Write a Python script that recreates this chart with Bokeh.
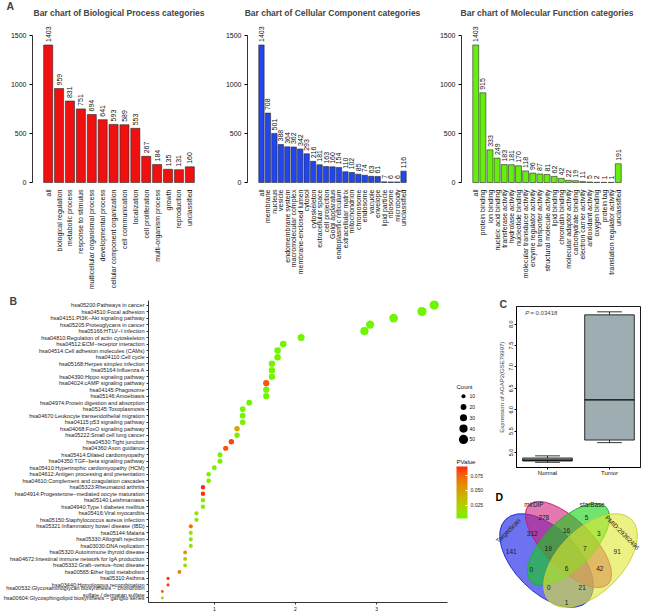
import math
from bokeh.plotting import figure
from bokeh.models import (ColumnDataSource, FactorRange, Range1d, FixedTicker, Label, Title,
                          LinearColorMapper, ColorBar, NumeralTickFormatter)
from bokeh.layouts import row, column
from bokeh.transform import dodge
from bokeh.core.properties import value
from bokeh.embed import file_html
from bokeh.resources import INLINE

FONT = "Liberation Sans"

# ---------------- data: panel A ----------------
bp_categories = ["all", "biological regulation", "metabolic process", "response to stimulus",
                 "multicellular organismal process", "developmental process",
                 "cellular component organization", "cell communication", "localization",
                 "cell proliferation", "multi-organism process", "growth", "reproduction",
                 "unclassified"]
bp_counts = [1403, 959, 831, 751, 694, 641, 593, 589, 553, 267, 184, 135, 131, 160]

cc_categories = ["all", "membrane", "nucleus", "vesicle", "endomembrane system",
                 "macromolecular complex", "membrane-enclosed lumen", "cytosol", "cytoskeleton",
                 "extracellular space", "cell projection", "Golgi apparatus",
                 "endoplasmic reticulum", "extracellular matrix", "mitochondrion", "chromosome",
                 "endosome", "vacuole", "envelope", "lipid particle", "ribosome", "microbody",
                 "unclassified"]
cc_counts = [1403, 708, 501, 388, 364, 362, 342, 293, 216, 181, 163, 160, 154, 110, 102, 85,
             74, 63, 61, 7, 6, 6, 116]

mf_categories = ["all", "protein binding", "ion binding", "nucleic acid binding",
                 "transferase activity", "hydrolase activity", "nucleotide binding",
                 "molecular transducer activity", "enzyme regulator activity",
                 "transporter activity", "structural molecule activity", "lipid binding",
                 "chromatin binding", "molecular adaptor activity", "carbohydrate binding",
                 "electron carrier activity", "antioxidant activity", "oxygen binding",
                 "protein tag", "translation regulator activity", "unclassified"]
mf_counts = [1403, 915, 333, 249, 183, 181, 170, 118, 96, 87, 81, 62, 42, 22, 19, 11, 5, 2,
             1, 1, 191]

# ---------------- data: panel B (top to bottom) ----------------
kegg_terms = [
    "hsa05200:Pathways in cancer",
    "hsa04510:Focal adhesion",
    "hsa04151:PI3K\u2212Akt signaling pathway",
    "hsa05205:Proteoglycans in cancer",
    "hsa05166:HTLV\u2212I infection",
    "hsa04810:Regulation of actin cytoskeleton",
    "hsa04512:ECM\u2212receptor interaction",
    "hsa04514:Cell adhesion molecules (CAMs)",
    "hsa04110:Cell cycle",
    "hsa05168:Herpes simplex infection",
    "hsa05164:Influenza A",
    "hsa04390:Hippo signaling pathway",
    "hsa04024:cAMP signaling pathway",
    "hsa04145:Phagosome",
    "hsa05146:Amoebiasis",
    "hsa04974:Protein digestion and absorption",
    "hsa05145:Toxoplasmosis",
    "hsa04670:Leukocyte transendothelial migration",
    "hsa04115:p53 signaling pathway",
    "hsa04068:FoxO signaling pathway",
    "hsa05222:Small cell lung cancer",
    "hsa04530:Tight junction",
    "hsa04360:Axon guidance",
    "hsa05414:Dilated cardiomyopathy",
    "hsa04350:TGF\u2212beta signaling pathway",
    "hsa05410:Hypertrophic cardiomyopathy (HCM)",
    "hsa04612:Antigen processing and presentation",
    "hsa04610:Complement and coagulation cascades",
    "hsa05323:Rheumatoid arthritis",
    "hsa04914:Progesterone\u2212mediated oocyte maturation",
    "hsa05140:Leishmaniasis",
    "hsa04940:Type I diabetes mellitus",
    "hsa05416:Viral myocarditis",
    "hsa05150:Staphylococcus aureus infection",
    "hsa05321:Inflammatory bowel disease (IBD)",
    "hsa05144:Malaria",
    "hsa05330:Allograft rejection",
    "hsa03030:DNA replication",
    "hsa05320:Autoimmune thyroid disease",
    "hsa04672:Intestinal immune network for IgA production",
    "hsa05332:Graft\u2212versus\u2212host disease",
    "hsa00565:Ether lipid metabolism",
    "hsa05310:Asthma",
    "hsa03440:Homologous recombination",
    "hsa00532:Glycosaminoglycan biosynthesis \u2212 chondroitin\nsulfate / dermatan sulfate",
    "hsa00604:Glycosphingolipid biosynthesis \u2212 ganglio series",
]
kegg_percent = [3.71, 3.56, 3.21, 2.92, 2.85, 2.07, 1.85, 1.78, 1.78, 1.71, 1.71, 1.71, 1.64,
                1.64, 1.64, 1.43, 1.35, 1.35, 1.35, 1.28, 1.28, 1.21, 1.14, 1.07, 1.07, 1.00,
                0.93, 0.93, 0.86, 0.86, 0.86, 0.86, 0.78, 0.78, 0.71, 0.71, 0.71, 0.71, 0.64,
                0.64, 0.64, 0.57, 0.43, 0.43, 0.36, 0.36]
kegg_count = [52, 50, 45, 41, 40, 29, 26, 25, 25, 24, 24, 24, 23, 23, 23, 20, 19, 19, 19, 18,
              18, 17, 16, 15, 15, 14, 13, 13, 12, 12, 12, 12, 11, 11, 10, 10, 10, 10, 9, 9, 9,
              8, 6, 6, 5, 5]
kegg_pvalue = [0.00001, 0.00001, 0.00001, 0.00001, 0.0002, 0.0003, 0.00001, 0.0002, 0.001,
               0.004, 0.003, 0.002, 0.080, 0.003, 0.002, 0.001, 0.004, 0.002, 0.006, 0.045,
               0.008, 0.085, 0.080, 0.004, 0.006, 0.006, 0.004, 0.009, 0.089, 0.088, 0.010,
               0.008, 0.012, 0.010, 0.070, 0.012, 0.012, 0.009, 0.058, 0.030, 0.015, 0.068,
               0.087, 0.085, 0.078, 0.025]
count_legend_values = [10, 20, 30, 40, 50]
pvalue_ticks = [0.025, 0.050, 0.075]

# ---------------- data: panel C ----------------
box_groups = ["Normal", "Tumor"]
box_lower = [4.77, 5.23]
box_q1 = [4.80, 5.29]
box_median = [4.82, 6.23]
box_q3 = [4.87, 8.22]
box_upper = [4.92, 8.29]
box_pvalue = "0.03418"

# ---------------- data: panel D ----------------
venn_sets = ["TargetScan", "mirDIP", "starBase", "PMID:29362496"]
venn_region_counts = [278, 5, 312, 16, 3, 141, 19, 7, 91, 0, 6, 42, 0, 21, 1]

# ================= styling helpers =================
def _to_lab(h):
    rgb = [int(h[i:i + 2], 16) / 255 for i in (1, 3, 5)]
    lin = [c / 12.92 if c <= 0.04045 else ((c + 0.055) / 1.055) ** 2.4 for c in rgb]
    r, g, b = lin
    X = (0.4124 * r + 0.3576 * g + 0.1805 * b) / 0.95047
    Y = 0.2126 * r + 0.7152 * g + 0.0722 * b
    Z = (0.0193 * r + 0.1192 * g + 0.9505 * b) / 1.08883
    f = lambda t: t ** (1 / 3) if t > 0.008856 else 7.787 * t + 16 / 116
    fx, fy, fz = f(X), f(Y), f(Z)
    return 116 * fy - 16, 500 * (fx - fy), 200 * (fy - fz)


def _from_lab(L, a, b):
    fy = (L + 16) / 116
    fx = fy + a / 500
    fz = fy - b / 200
    inv = lambda t: t ** 3 if t ** 3 > 0.008856 else (t - 16 / 116) / 7.787
    X, Y, Z = 0.95047 * inv(fx), inv(fy), 1.08883 * inv(fz)
    r = 3.2406 * X - 1.5372 * Y - 0.4986 * Z
    g = -0.9689 * X + 1.8758 * Y + 0.0415 * Z
    bb = 0.0557 * X - 0.2040 * Y + 1.0570 * Z
    def gam(c):
        c = max(0.0, min(1.0, c))
        return 12.92 * c if c <= 0.0031308 else 1.055 * c ** (1 / 2.4) - 0.055
    return "#%02x%02x%02x" % tuple(int(round(gam(c) * 255)) for c in (r, g, bb))


def lab_palette(c0, c1, n=128):
    l0, l1 = _to_lab(c0), _to_lab(c1)
    return [_from_lab(*[l0[k] + (l1[k] - l0[k]) * i / (n - 1) for k in range(3)]) for i in range(n)]


PALETTE = lab_palette("#70f500", "#ff1f10")
mapper = LinearColorMapper(palette=PALETTE, low=0.002, high=0.091)


def base_fig(**kw):
    p = figure(output_backend="svg", toolbar_location=None, **kw)
    p.frame_align = False
    p.xgrid.visible = False
    p.ygrid.visible = False
    p.background_fill_color = "white"
    p.border_fill_color = "white"
    return p


def sqrt_size(c):
    return 1.3 * math.sqrt(c)


def letter_title(text, offset, standoff):
    return Title(text=text, text_font=FONT, text_font_size="10.5px", text_font_style="bold",
                 align="left", offset=offset, standoff=standoff)


# ================= panel A =================
PX_PER_UNIT = 147 / 1500.0   # 0 at y=182, 1500 at y=35
A_TOP = 19                   # frame top (px from figure top)
A_HEIGHT = 290


def make_bar(title, cats, counts, color, width, bl, br, letter=None):
    n = len(cats)
    pad = 2 * (0.04 * (n - 1 / 6) - 1 / 12)
    src = ColumnDataSource(dict(cat=cats, count=counts, label=[str(c) for c in counts]))
    p = base_fig(width=width, height=A_HEIGHT,
                 x_range=FactorRange(factors=cats, range_padding=pad,
                                     range_padding_units="absolute"),
                 y_range=Range1d(-(A_HEIGHT - 182) / PX_PER_UNIT, (182 - A_TOP) / PX_PER_UNIT),
                 x_axis_location=None, title=None,
                 min_border_left=bl, min_border_right=br, min_border_top=A_TOP,
                 min_border_bottom=0)
    p.outline_line_color = None
    p.add_layout(Title(text=title, text_font=FONT, text_font_size="8.5px",
                       text_font_style="bold", align="center", standoff=3), "above")
    if letter:
        p.add_layout(letter_title(letter, -(bl - 6), -15), "above")
    p.vbar(x="cat", top="count", width=1 / 1.2, source=src, fill_color=color,
           line_color="#2a2a2a", line_width=0.6)
    p.text(x="cat", y="count", text="label", source=src, angle=math.pi / 2,
           text_align="left", text_baseline="middle", y_offset=-3,
           text_font=value(FONT), text_font_size=value("7px"), text_color="#111111")
    p.text(x="cat", y=0, text="cat", source=src, angle=math.pi / 2,
           text_align="right", text_baseline="middle", y_offset=7,
           text_font=value(FONT), text_font_size=value("7px"), text_color="#111111")
    ax = p.yaxis[0]
    ax.ticker = FixedTicker(ticks=[0, 500, 1000, 1500])
    ax.bounds = (0, 1500)
    ax.major_label_text_font = FONT
    ax.major_label_text_font_size = "7px"
    ax.major_label_text_color = "#111111"
    ax.major_tick_out = 3
    ax.major_tick_in = 0
    ax.minor_tick_line_color = None
    ax.axis_line_width = 0.8
    ax.major_label_standoff = 3
    return p


a1 = make_bar("Bar chart of Biological Process categories", bp_categories, bp_counts,
              "#f01010", 214, 32, 9, letter="A")
a2 = make_bar("Bar chart of Cellular Component categories", cc_categories, cc_counts,
              "#2146ee", 214, 33, 11)
a3 = make_bar("Bar chart of Molecular Function categories", mf_categories, mf_counts,
              "#66ee10", 218, 33, 14)

# ================= panel B =================
bsrc = ColumnDataSource(dict(term=kegg_terms, pct=kegg_percent, count=kegg_count,
                             pval=kegg_pvalue, size=[sqrt_size(c) for c in kegg_count]))
pb = base_fig(width=450, height=326,
              y_range=FactorRange(factors=kegg_terms[::-1], range_padding=0.2,
                                  range_padding_units="absolute"),
              x_range=Range1d(0.189, 3.874), title=None,
              min_border_left=146, min_border_right=3, min_border_top=10, min_border_bottom=14)
pb.outline_line_color = None
pb.add_layout(letter_title("B", -139, -13.5), "above")
pb.scatter(x="pct", y="term", size="size", source=bsrc, marker="circle",
           fill_color={"field": "pval", "transform": mapper}, line_color=None)
for ax in (pb.xaxis[0], pb.yaxis[0]):
    ax.axis_line_color = "black"
    ax.axis_line_width = 0.8
    ax.major_tick_line_color = "#333333"
    ax.major_tick_out = 2
    ax.major_tick_in = 0
    ax.minor_tick_line_color = None
    ax.major_label_text_font = FONT
    ax.major_label_text_color = "#1a1a1a"
    ax.major_label_standoff = 2
pb.yaxis[0].major_label_text_font_size = "5.5px"
pb.xaxis[0].major_label_text_font_size = "5px"
pb.xaxis[0].ticker = FixedTicker(ticks=[1, 2, 3])

# legend column for panel B
leg = base_fig(width=45, height=326, x_range=Range1d(0, 45), y_range=Range1d(326, 0),
               x_axis_location=None, y_axis_location=None, min_border=0)
leg.outline_line_color = None
leg_y = [105.7 + 10.8 * i for i in range(len(count_legend_values))]
leg.text(x=6, y=96, text=["Count"], text_font=value(FONT), text_font_size=value("6px"),
         text_baseline="middle", text_align="left", text_color="#111111")
leg.scatter(x=13, y=leg_y, size=[sqrt_size(v) for v in count_legend_values],
            marker="circle", fill_color="black", line_color=None)
leg.text(x=19, y=leg_y, text=[str(v) for v in count_legend_values], text_font=value(FONT),
         text_font_size=value("5px"), text_baseline="middle", text_align="left",
         text_color="#111111")
leg.text(x=6, y=171, text=["PValue"], text_font=value(FONT), text_font_size=value("6px"),
         text_baseline="middle", text_align="left", text_color="#111111")
cb = ColorBar(color_mapper=mapper, ticker=FixedTicker(ticks=pvalue_ticks),
              formatter=NumeralTickFormatter(format="0.000"), width=11, height=52,
              location=(6, 98), padding=0, label_standoff=3,
              major_label_text_font=FONT, major_label_text_font_size="5px",
              major_label_text_color="#222222",
              background_fill_alpha=0, border_line_color=None, bar_line_color=None,
              major_tick_line_color="white", major_tick_in=2, major_tick_out=0)
leg.add_layout(cb)

# ================= panel C =================
csrc = ColumnDataSource(dict(group=box_groups, lower=box_lower, q1=box_q1, median=box_median,
                             q3=box_q3, upper=box_upper))
pc = base_fig(width=151, height=190, x_range=FactorRange(factors=box_groups),
              y_range=Range1d(4.648, 8.415), title=None,
              min_border_left=19, min_border_right=6, min_border_top=16, min_border_bottom=13)
pc.outline_line_color = "black"
pc.outline_line_width = 0.9
pc.add_layout(letter_title("C", -17, -6), "above")
pc.segment(x0="group", y0="q3", x1="group", y1="upper", source=csrc, line_color="black",
           line_width=0.8)
pc.segment(x0="group", y0="lower", x1="group", y1="q1", source=csrc, line_color="black",
           line_width=0.8)
for yk in ("upper", "lower"):
    pc.segment(x0=dodge("group", -0.2, range=pc.x_range), y0=yk,
               x1=dodge("group", 0.2, range=pc.x_range), y1=yk, source=csrc,
               line_color="black", line_width=0.8)
pc.vbar(x="group", bottom="q1", top="q3", width=0.8, source=csrc, fill_color="#9eadb1",
        line_color="black", line_width=0.8)
pc.segment(x0=dodge("group", -0.4, range=pc.x_range), y0="median",
           x1=dodge("group", 0.4, range=pc.x_range), y1="median", source=csrc,
           line_color="black", line_width=1.3)
yax = pc.yaxis[0]
yax.ticker = FixedTicker(ticks=[5.0, 5.5, 6.0, 6.5, 7.0, 7.5, 8.0])
yax.formatter = NumeralTickFormatter(format="0.0")
yax.major_label_orientation = "parallel"
yax.axis_label = "Expression of AGAP2(GSE79997)"
yax.axis_label_text_font = FONT
yax.axis_label_text_font_size = "6px"
yax.axis_label_text_font_style = "normal"
yax.axis_label_standoff = 2
for ax in (pc.xaxis[0], yax):
    ax.major_label_text_font = FONT
    ax.major_label_text_font_size = "5.5px"
    ax.major_label_text_color = "#111111"
    ax.major_tick_out = 2
    ax.major_tick_in = 0
    ax.minor_tick_line_color = None
    ax.major_label_standoff = 1
    ax.axis_line_color = "black"
pc.xaxis[0].major_label_text_font_size = "6px"
pc.xaxis[0].major_label_standoff = 0
pc.add_layout(Label(x=0.14, y=8.27, text="P", text_font=FONT, text_font_size="6px",
                    text_font_style="italic", text_baseline="middle", text_align="left"))
pc.add_layout(Label(x=0.225, y=8.27, text="= " + box_pvalue, text_font=FONT,
                    text_font_size="6px", text_baseline="middle", text_align="left"))

# ================= panel D =================
venn_geom = dict(x=[546, 568, 568, 590], y=[560, 544, 544, 560],
                 w=[116, 112, 106, 116], h=[64, 48, 48, 64], ang=[-45, -45, 45, 45],
                 fill=["#0a14e6", "#d0207a", "#10d010", "#e0e830"],
                 line=["#1428c8", "#c01c6c", "#20b020", "#c8cc30"])
venn_label_xy = [(543.3, 517.3), (586, 517.3), (531.7, 533.3), (566, 530), (598.3, 533.3),
                 (510.7, 551), (547.7, 547.7), (584.3, 547.7), (616.7, 551), (530.7, 569.3),
                 (566, 568.3), (599.3, 568.3), (548.3, 586.7), (581.7, 586.7), (566, 601.7)]
venn_name_layout = dict(x=[507.5, 533.3, 591.7, 622], y=[530, 504, 504, 532],
                        ang=[45, 0, 0, -45])

pd = base_fig(width=151, height=136, x_range=Range1d(495, 646), y_range=Range1d(616, 480),
              x_axis_location=None, y_axis_location=None, min_border=0)
pd.outline_line_color = None
vsrc = ColumnDataSource(dict(x=venn_geom["x"], y=venn_geom["y"], w=venn_geom["w"],
                             h=venn_geom["h"], ang=venn_geom["ang"], fill=venn_geom["fill"],
                             line=venn_geom["line"], name=venn_sets))
pd.ellipse(x="x", y="y", width="w", height="h", angle="ang", angle_units="deg", source=vsrc,
           fill_color="fill", fill_alpha=0.6, line_color="line", line_width=1, line_alpha=0.9)
pd.text(x=[xy[0] for xy in venn_label_xy], y=[xy[1] for xy in venn_label_xy],
        text=[str(v) for v in venn_region_counts], text_font=value(FONT),
        text_font_size=value("6.5px"), text_align="center", text_baseline="middle",
        text_color="#1a1a1a")
pd.text(x=venn_name_layout["x"], y=venn_name_layout["y"], text=venn_sets,
        angle=venn_name_layout["ang"], angle_units="deg", text_font=value(FONT),
        text_font_size=value("6.3px"), text_align="center", text_baseline="middle",
        text_color="#1a1a1a")
pd.text(x=[495], y=[490], text=["D"], text_font=value(FONT), text_font_size=value("10.5px"),
        text_font_style="bold", text_baseline="top", text_align="left", text_color="black")

# ================= layout =================
layout = column(row(a1, a2, a3), row(pb, leg, column(pc, pd)))
open("out.html", "w").write(file_html(layout, INLINE))
